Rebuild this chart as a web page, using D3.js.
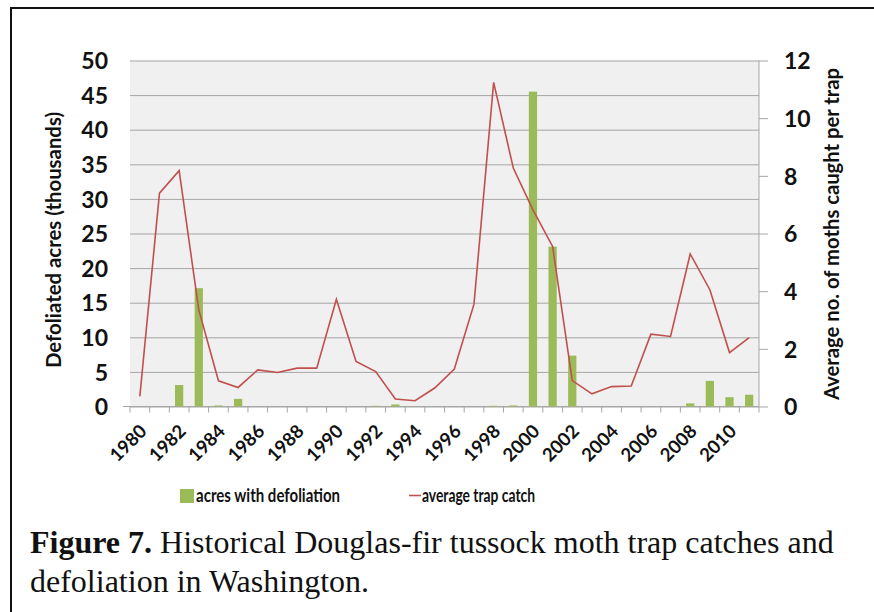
<!DOCTYPE html>
<html>
<head>
<meta charset="utf-8">
<script src="https://cdn.jsdelivr.net/npm/d3@7"></script>
<style>
  html, body { margin: 0; padding: 0; background: #fff; }
  svg { display: block; }
</style>
</head>
<body>
<svg id="chart" width="874" height="612"></svg>
<script>
const years = d3.range(1980, 2012);
const acres = [0, 0, 3.1, 17.1, 0.15, 1.1, 0, 0, 0, 0, 0, 0, 0.1, 0.3, 0, 0, 0, 0, 0.1, 0.15,
  45.5, 23.1, 7.35, 0, 0, 0, 0, 0, 0.45, 3.7, 1.35, 1.7];
const trap = [0.35, 7.4, 8.18, 3.35, 0.89, 0.66, 1.27, 1.18, 1.33, 1.33, 3.72, 1.56, 1.21, 0.26, 0.2,
  0.64, 1.3, 3.55, 11.24, 8.27, 6.82, 5.55, 0.9, 0.44, 0.69, 0.71, 2.51, 2.43, 5.29, 4.05, 1.87, 2.39];
const leftTicks = [0, 5, 10, 15, 20, 25, 30, 35, 40, 45, 50];
const rightTicks = [0, 2, 4, 6, 8, 10, 12];
const xLabels = years.filter(y => y % 2 === 0);
const seriesNames = ["acres with defoliation", "average trap catch"];
const captionBold = "Figure 7.";
const captionLine1 = " Historical Douglas-fir tussock moth trap catches and";
const captionLine2 = "defoliation in Washington.";

const svg = d3.select("#chart");
const L = 130, R = 759, T = 60.5, B = 406.5;
const barColor = "#9bbb59", lineColor = "#c0504d", gridColor = "#a6a6a6";
const font = "Lato, 'Open Sans', sans-serif";

// frame
svg.append("path").attr("d", "M11,620 L11,8 L880,8").attr("fill", "none")
  .attr("stroke", "#111").attr("stroke-width", 2);

const x = d3.scaleBand().domain(years).range([L, R]).paddingInner(0).paddingOuter(0);
const yL = d3.scaleLinear().domain([0, 50]).range([B, T]);
const yR = d3.scaleLinear().domain([0, 12]).range([B, T]);

svg.append("rect").attr("x", L).attr("y", T).attr("width", R - L).attr("height", B - T).attr("fill", "#f0f0f0");

// left axis with gridlines
const gL = svg.append("g").attr("transform", `translate(${L},0)`)
  .call(d3.axisLeft(yL).tickValues(leftTicks).tickSize(7).tickPadding(15));
gL.select(".domain").remove();
gL.selectAll(".tick line").attr("stroke", gridColor).attr("x2", R - L);
gL.selectAll(".tick text").attr("font-family", font).attr("font-weight", 700)
  .attr("font-size", 23).attr("fill", "#111").attr("dy", "0.36em");

// right axis
const gR = svg.append("g").attr("transform", `translate(${R},0)`)
  .call(d3.axisRight(yR).tickValues(rightTicks).tickSize(9).tickPadding(16));
gR.select(".domain").attr("stroke", gridColor).attr("d", `M0,${B}V${T}`);
gR.selectAll(".tick line").attr("stroke", gridColor);
gR.selectAll(".tick text").attr("font-family", font).attr("font-weight", 700)
  .attr("font-size", 23).attr("fill", "#111").attr("text-anchor", "start").attr("dy", "0.36em");

// x axis
const gX = svg.append("g").attr("transform", `translate(0,${B})`)
  .call(d3.axisBottom(x).tickValues(xLabels).tickSize(0).tickFormat(d3.format("d")));
gX.select(".domain").attr("stroke", gridColor).attr("d", `M${L - 7},0H${R}`);
gX.selectAll(".tick text").attr("font-family", font).attr("font-weight", 700)
  .attr("font-size", 18.5).attr("fill", "#111")
  .attr("text-anchor", "end").attr("dy", null).attr("y", null)
  .attr("transform", "translate(8,26) rotate(-45)");
// boundary tick marks
svg.append("g").selectAll("line").data(years.concat([2012])).join("line")
  .attr("x1", d => d === 2012 ? R : x(d)).attr("x2", d => d === 2012 ? R : x(d))
  .attr("y1", B).attr("y2", B + 6).attr("stroke", gridColor);

// bars
const bw = x.bandwidth() * 0.42;
svg.append("g").selectAll("rect").data(years).join("rect")
  .attr("x", (d) => x(d) + (x.bandwidth() - bw) / 2)
  .attr("y", (d, i) => yL(acres[i]))
  .attr("width", bw)
  .attr("height", (d, i) => B - yL(acres[i]))
  .attr("fill", barColor);

// line
const line = d3.line().x((d, i) => x(years[i]) + x.bandwidth() / 2).y(d => yR(d));
svg.append("path").datum(trap).attr("d", line).attr("fill", "none")
  .attr("stroke", lineColor).attr("stroke-width", 1.6).attr("stroke-linejoin", "miter");

// axis titles
svg.append("text").attr("transform", "translate(61,240) rotate(-90)")
  .attr("text-anchor", "middle").attr("font-family", font).attr("font-weight", 700)
  .attr("font-size", 20).attr("fill", "#111").attr("textLength", 256).attr("lengthAdjust", "spacingAndGlyphs")
  .text("Defoliated acres (thousands)");
svg.append("text").attr("transform", "translate(839,234) rotate(-90)")
  .attr("text-anchor", "middle").attr("font-family", font).attr("font-weight", 700)
  .attr("font-size", 20).attr("fill", "#111").attr("textLength", 332).attr("lengthAdjust", "spacingAndGlyphs")
  .text("Average no. of moths caught per trap");

// legend
const lg = svg.append("g").attr("font-family", font).attr("font-weight", 700)
  .attr("font-size", 18).attr("fill", "#111");
lg.append("rect").attr("x", 180).attr("y", 489).attr("width", 14).attr("height", 14).attr("fill", barColor);
lg.append("text").attr("x", 196).attr("y", 502).attr("textLength", 144).attr("lengthAdjust", "spacingAndGlyphs")
  .text(seriesNames[0]);
lg.append("line").attr("x1", 409).attr("x2", 421).attr("y1", 495.5).attr("y2", 495.5)
  .attr("stroke", lineColor).attr("stroke-width", 1.6);
lg.append("text").attr("x", 422).attr("y", 502).attr("textLength", 113).attr("lengthAdjust", "spacingAndGlyphs")
  .text(seriesNames[1]);

// caption
const cap = svg.append("g").attr("font-family", "'Liberation Serif', 'Times New Roman', serif")
  .attr("font-size", 32).attr("fill", "#111");
const t1 = cap.append("text").attr("x", 30).attr("y", 553);
t1.append("tspan").attr("font-weight", 700).text(captionBold);
t1.append("tspan").text(captionLine1);
cap.append("text").attr("x", 30).attr("y", 592).text(captionLine2);
</script>
</body>
</html>
